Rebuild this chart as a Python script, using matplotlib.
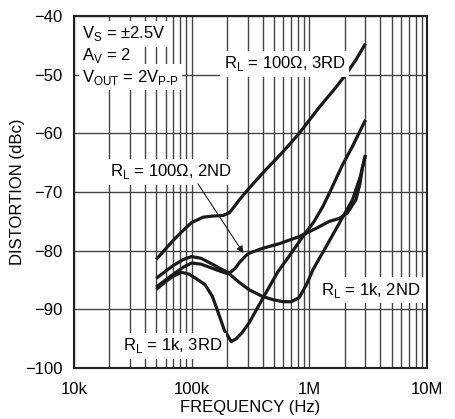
import matplotlib
matplotlib.use('Agg')
import matplotlib.pyplot as plt
import numpy as np

plt.rcParams['font.family'] = ['Liberation Sans', 'DejaVu Sans']
plt.rcParams['font.size'] = 12

# frequency in kHz, distortion in dBc
f_100_3rd = [50, 60, 70, 85, 100, 125, 150, 185, 210, 230, 255, 300, 400, 600, 820, 1220, 1600, 2040, 2500, 3000]
d_100_3rd = [-81.5, -79.7, -78.2, -76.5, -75.2, -74.3, -74.1, -74.0, -73.5, -72.5, -71.3, -69.6, -66.8, -63.1, -60.0, -55.5, -52.7, -50.0, -47.4, -44.7]

f_100_2nd = [50, 60, 70, 85, 100, 120, 150, 180, 210, 235, 255, 290, 310, 400, 557, 820, 1140, 1480, 1800, 2100, 2490, 2700, 2830, 3000]
d_100_2nd = [-84.7, -83.5, -82.5, -81.5, -81.0, -81.3, -82.3, -83.2, -83.8, -83.0, -82.0, -80.8, -80.4, -79.6, -78.8, -77.6, -76.2, -75.0, -74.5, -73.6, -71.3, -68.5, -65.8, -63.7]

f_1k_2nd = [50, 60, 70, 85, 100, 120, 150, 180, 210, 250, 310, 400, 500, 600, 700, 820, 950, 1070, 1380, 1800, 2330, 2700, 3000]
d_1k_2nd = [-86.2, -85.0, -84.0, -82.8, -82.1, -82.3, -83.0, -83.6, -84.0, -85.3, -86.7, -87.8, -88.4, -88.7, -88.7, -88.0, -85.7, -83.3, -79.4, -75.3, -71.3, -67.5, -63.7]

f_1k_3rd = [50, 60, 70, 82, 95, 110, 130, 150, 167, 190, 217, 240, 270, 310, 400, 540, 670, 880, 1100, 1300, 1480, 1900, 2330, 3000]
d_1k_3rd = [-86.6, -85.3, -84.3, -83.7, -84.0, -84.8, -85.8, -87.8, -90.4, -93.6, -95.5, -95.0, -93.9, -92.2, -88.2, -83.6, -81.0, -77.6, -75.0, -72.5, -70.2, -65.5, -62.2, -57.7]

x_ticks = [1e4, 1e5, 1e6, 1e7]
x_labels = ['10k', '100k', '1M', '10M']
y_ticks = [-100, -90, -80, -70, -60, -50, -40]
y_labels = ['\u2212100', '\u221290', '\u221280', '\u221270', '\u221260', '\u221250', '\u221240']

fig = plt.figure(figsize=(4.56, 4.19), dpi=100)
ax = fig.add_axes([0.1623, 0.1217, 0.7741, 0.8401])

ax.set_xscale('log')
ax.set_xlim(1e4, 1e7)
ax.set_ylim(-100, -40)

# grid: every minor decade line vertically, 10 dB horizontally
for dec in [1e4, 1e5, 1e6]:
    for m in range(1, 10):
        ax.axvline(dec * m, color='#444444', lw=1.0, zorder=1)
for y in y_ticks:
    ax.axhline(y, color='#444444', lw=1.0, zorder=1)

for f, d in [(f_100_3rd, d_100_3rd), (f_100_2nd, d_100_2nd),
             (f_1k_2nd, d_1k_2nd), (f_1k_3rd, d_1k_3rd)]:
    ax.plot(np.array(f) * 1e3, d, color='#1a1a1a', lw=2.3, zorder=3,
            solid_capstyle='butt', solid_joinstyle='round')

ax.set_xticks(x_ticks)
ax.set_xticklabels(x_labels)
ax.set_yticks(y_ticks)
ax.set_yticklabels(y_labels)
ax.xaxis.set_minor_locator(matplotlib.ticker.NullLocator())
ax.tick_params(length=0, pad=8)
ax.tick_params(axis='x', pad=10)
for s in ax.spines.values():
    s.set_linewidth(1.5)
    s.set_color('#222222')
    s.set_zorder(5)

ax.set_xlabel('FREQUENCY (Hz)', labelpad=2)
ax.set_ylabel('DISTORTION (dBc)', labelpad=0)

box = dict(facecolor='white', edgecolor='none', pad=2.5)
ax.text(1.17e4, -43.8, 'V$_\\mathregular{S}$ = \u00b12.5V', ha='left', va='baseline', bbox=box, zorder=4)
ax.text(1.17e4, -47.5, 'A$_\\mathregular{V}$ = 2', ha='left', va='baseline', bbox=box, zorder=4)
ax.text(1.17e4, -51.2, 'V$_\\mathregular{OUT}$ = 2V$_\\mathregular{P\\text{-}P}$', ha='left', va='baseline', bbox=box, zorder=4)

ax.text(1.87e5, -48.9, 'R$_\\mathregular{L}$ = 100\u03a9, 3RD', ha='left', va='baseline', bbox=box, zorder=4)
ax.text(2.02e4, -67.3, 'R$_\\mathregular{L}$ = 100\u03a9, 2ND', ha='left', va='baseline', bbox=box, zorder=4)
ax.text(1.26e6, -87.5, 'R$_\\mathregular{L}$ = 1k, 2ND', ha='left', va='baseline', bbox=box, zorder=4)
ax.text(2.6e4, -97.0, 'R$_\\mathregular{L}$ = 1k, 3RD', ha='left', va='baseline', bbox=box, zorder=4)

ax.annotate('', xy=(2.75e5, -80.4), xytext=(1.13e5, -68.6),
            arrowprops=dict(arrowstyle='-|>', color='#1a1a1a', lw=0.8,
                            mutation_scale=10, shrinkA=0, shrinkB=0), zorder=4)

fig.savefig('out.png', dpi=100)
